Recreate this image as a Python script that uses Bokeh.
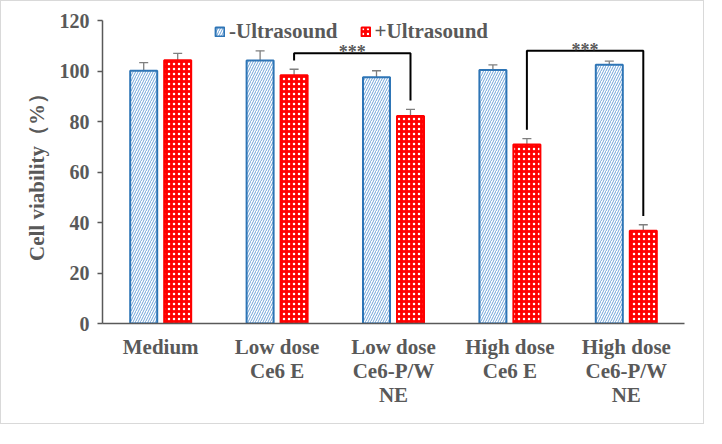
import numpy as np
from bokeh.plotting import figure
from bokeh.models import (ColumnDataSource, Range1d, Whisker, TeeHead, Legend,
                          LegendItem, FixedTicker)
from bokeh.core.properties import value
from bokeh.embed import file_html
from bokeh.resources import INLINE

# ---- data ----
categories = ["Medium", "Low dose\nCe6 E", "Low dose\nCe6-P/W\nNE",
              "High dose\nCe6 E", "High dose\nCe6-P/W\nNE"]
no_us = [100.1, 104.2, 97.5, 100.4, 102.5]
no_us_err = [3.2, 3.8, 2.6, 2.0, 1.4]
with_us = [104.3, 98.3, 82.2, 70.9, 36.7]
with_us_err = [2.7, 2.4, 2.6, 2.3, 2.4]
series_names = ["-Ultrasound", "+Ultrasound"]
# significance brackets between +Ultrasound bars (category index pairs)
bracket_left = [1, 3]
bracket_right = [2, 4]
bracket_top = [107.0, 108.0]
bracket_label = ["***", "***"]
y_ticks = [0, 20, 40, 60, 80, 100, 120]

FONT = "Liberation Serif"
GREY = "#595959"
OFF = 0.146
BW = 0.232

p = figure(frame_width=582, frame_height=303, output_backend="svg",
           toolbar_location=None,
           x_range=Range1d(-0.5, len(categories) - 0.5), y_range=Range1d(0, 120),
           min_border_left=101, min_border_right=19, min_border_top=19,
           min_border_bottom=100)
p.styles = {"border": "1px solid #d9d9d9"}
p.outline_line_color = None
p.xgrid.visible = False
p.ygrid.visible = False

xs = np.arange(len(categories))
src_a = ColumnDataSource(dict(x=xs - OFF, top=no_us,
                              lo=np.array(no_us) - np.array(no_us_err),
                              hi=np.array(no_us) + np.array(no_us_err)))
src_b = ColumnDataSource(dict(x=xs + OFF, top=with_us,
                              lo=np.array(with_us) - np.array(with_us_err),
                              hi=np.array(with_us) + np.array(with_us_err)))

ra = p.vbar(x="x", top="top", width=BW, source=src_a, fill_color="white",
            line_color="#2E75B6", line_width=2, hatch_pattern="/",
            hatch_color="#6FA3D8", hatch_scale=5, hatch_weight=1)
rb = p.vbar(x="x", top="top", width=BW, source=src_b, fill_color="#FF0000",
            line_color="#FF0000", line_width=2, hatch_pattern=".",
            hatch_color="white", hatch_scale=5, hatch_weight=2)

for s in (src_a, src_b):
    w = Whisker(source=s, base="x", upper="hi", lower="lo", line_color="#7F7F7F",
                line_width=1.3,
                upper_head=TeeHead(size=9, line_color="#7F7F7F", line_width=1.3),
                lower_head=TeeHead(size=9, line_color="#7F7F7F", line_width=1.3))
    p.add_layout(w)

# brackets
bx, by, tx, ty = [], [], [], []
for l, r, t in zip(bracket_left, bracket_right, bracket_top):
    lx, rx = l + OFF, r + OFF
    ly = with_us[l] + with_us_err[l] + 3.5
    ry = with_us[r] + with_us_err[r] + 3.5
    bx.append([lx, lx, rx, rx])
    by.append([ly, t, t, ry])
    tx.append((lx + rx) / 2)
    ty.append(t)
p.multi_line(xs=bx, ys=by, line_color="black", line_width=2)
p.text(x=tx, y=ty, text=bracket_label, text_font=value(FONT), text_font_style="bold",
       text_font_size="18px", text_color=GREY, text_align="center",
       text_baseline="middle", y_offset=-1)

# axes
yax = p.yaxis[0]
yax.ticker = FixedTicker(ticks=y_ticks)
yax.minor_tick_line_color = None
yax.major_tick_in = 0
yax.major_tick_out = 5
yax.axis_line_color = GREY
yax.major_tick_line_color = GREY
yax.axis_line_width = 1.5
yax.major_tick_line_width = 1.5
yax.major_label_text_font = FONT
yax.major_label_text_font_style = "bold"
yax.major_label_text_font_size = "20px"
yax.major_label_text_color = GREY
yax.major_label_standoff = 8
yax.axis_label = "Cell viability（%）"
yax.axis_label_text_font = FONT
yax.axis_label_text_font_style = "bold"
yax.axis_label_text_font_size = "21px"
yax.axis_label_text_color = GREY
yax.axis_label_standoff = 8

xax = p.xaxis[0]
xax.ticker = FixedTicker(ticks=list(range(len(categories))))
xax.major_label_overrides = {i: c for i, c in enumerate(categories)}
xax.minor_tick_line_color = None
xax.major_tick_line_color = None
xax.axis_line_color = GREY
xax.axis_line_width = 1.5
xax.major_label_text_font = FONT
xax.major_label_text_font_style = "bold"
xax.major_label_text_font_size = "21px"
xax.major_label_text_line_height = 1.0
xax.major_label_text_color = GREY
xax.major_label_standoff = 5

legend = Legend(items=[LegendItem(label=series_names[0], renderers=[ra]),
                       LegendItem(label=series_names[1], renderers=[rb])],
                orientation="horizontal", location=(112, 279),
                label_text_font=FONT, label_text_font_style="bold",
                label_text_font_size="21px", label_text_color=GREY,
                glyph_width=11, glyph_height=11, label_standoff=4, spacing=22,
                padding=0, margin=0, background_fill_alpha=0, border_line_alpha=0)
p.add_layout(legend)

open("out.html", "w").write(file_html(p, INLINE))
